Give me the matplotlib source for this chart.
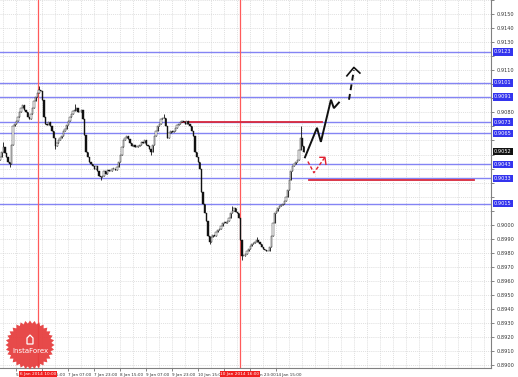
import matplotlib
matplotlib.use("Agg")
import matplotlib.pyplot as plt
import matplotlib.transforms as mtransforms
from matplotlib.patches import Rectangle, Polygon
import numpy as np

# ---------------- data ----------------
first_open = 0.9046
closes = [
    0.9048, 0.9052, 0.9055, 0.9051, 0.9048, 0.9045, 0.9043, 0.9057, 0.9070, 0.9072,
    0.9074, 0.9077, 0.9080, 0.9083, 0.9085, 0.9082, 0.9080, 0.9077, 0.9075, 0.9079,
    0.9083, 0.9088, 0.9091, 0.9094, 0.9096, 0.9095, 0.9089, 0.9077, 0.9072, 0.9071,
    0.9073, 0.9070, 0.9067, 0.9062, 0.9056, 0.9058, 0.9060, 0.9062, 0.9063, 0.9067,
    0.9068, 0.9071, 0.9074, 0.9077, 0.9079, 0.9081, 0.9082, 0.9083, 0.9080, 0.9080,
    0.9082, 0.9075, 0.9064, 0.9052, 0.9048, 0.9045, 0.9043, 0.9042, 0.9040, 0.9042,
    0.9038, 0.9035, 0.9034, 0.9035, 0.9038, 0.9036, 0.9039, 0.9038, 0.9038, 0.9040,
    0.9040, 0.9039, 0.9041, 0.9045, 0.9050, 0.9055, 0.9060, 0.9062, 0.9063, 0.9061,
    0.9058, 0.9056, 0.9057, 0.9055, 0.9055, 0.9056, 0.9057, 0.9059, 0.9058, 0.9060,
    0.9057, 0.9056, 0.9054, 0.9052, 0.9057, 0.9063, 0.9067, 0.9070, 0.9072, 0.9075,
    0.9076, 0.9076, 0.9070, 0.9062, 0.9065, 0.9067, 0.9066, 0.9067, 0.9069, 0.9071,
    0.9072, 0.9073, 0.9074, 0.9073, 0.9072, 0.9074, 0.9072, 0.9070, 0.9067, 0.9063,
    0.9052, 0.9048, 0.9045, 0.9040, 0.9023, 0.9015, 0.9008, 0.9003, 0.8992, 0.8988,
    0.8991, 0.8993, 0.8992, 0.8995, 0.8996, 0.8997, 0.8999, 0.9001, 0.9002, 0.9001,
    0.9003, 0.9005, 0.9008, 0.9010, 0.9012, 0.9009, 0.9008, 0.9005, 0.8989, 0.8978,
    0.8978, 0.8979, 0.8981, 0.8983, 0.8985, 0.8986, 0.8987, 0.8988, 0.8989, 0.8988,
    0.8986, 0.8984, 0.8983, 0.8982, 0.8981, 0.8981, 0.8984, 0.8992, 0.9001, 0.9008,
    0.9010, 0.9012, 0.9013, 0.9014, 0.9015, 0.9017, 0.9020, 0.9025, 0.9032, 0.9038,
    0.9042, 0.9043, 0.9045, 0.9046, 0.9053, 0.9062, 0.9056, 0.9052,
]
# notable wicks
hi_idx = [2, 24, 46, 101, 143, 158, 185]
hi_val = [0.9059, 0.9099, 0.9086, 0.9079, 0.9013, 0.8991, 0.9070]
lo_idx = [6, 34, 62, 93, 129, 149]
lo_val = [0.9041, 0.9054, 0.9032, 0.9050, 0.8986, 0.8975]

# horizontal levels (blue)
levels = [0.9123, 0.9101, 0.9091, 0.9073, 0.9065, 0.9043, 0.9033, 0.9015]
current_price = 0.9052
# red horizontal segments: (start bar, end bar, price)
red_seg_x0 = [112, 190]
red_seg_x1 = [198, 292]
red_seg_y = [0.9073, 0.9032]
# red vertical lines (bar index) and their labels
vlines_x = [23.4, 147.7]
vlines_lbl = ["6 Jan 2014 10:00", "10 Jan 2014 16:00"]
# forecast paths
proj_x = [187.7, 195.1, 197.5, 203.7, 205.5, 208.6]
proj_y = [0.9048, 0.9069, 0.9059, 0.9089, 0.9083, 0.9087]
proj_dash_x = [214.8, 217.8]
proj_dash_y = [0.9089, 0.9110]
proj_head_x = [213.5, 217.8, 221.5]
proj_head_y = [0.9106, 0.9112, 0.9108]
alt_x = [189.5, 193.2, 200.0]
alt_y = [0.9045, 0.9037, 0.9048]
alt_head_x = [196.9, 200.0, 200.6]
alt_head_y = [0.9048, 0.9048, 0.9043]

# axis ticks
ytick_vals = [round(0.8900 + 0.0010 * k, 4) for k in range(27)]
xtick_pos = [-6, 10, 26, 42, 58, 74, 90, 106, 122, 138, 154, 170]
xtick_lbl = ["3 Jan 07:00", "5 Jan 23:00", "6 Jan 15:00", "7 Jan 07:00",
             "7 Jan 23:00", "8 Jan 15:00", "9 Jan 07:00", "9 Jan 23:00",
             "10 Jan 15:00", "13 Jan 07:00", "13 Jan 23:00", "14 Jan 15:00"]

# ---------------- figure ----------------
W, H = 518, 377
XLIM = (0, 302.2)
YLIM = (0.8898, 0.9160)
fig = plt.figure(figsize=(W / 100, H / 100), dpi=100)
ax = fig.add_axes([0, 9 / H, 491 / W, 368 / H])

# grid
for yv in ytick_vals:
    ax.axhline(yv, color="#d4d4d4", lw=0.5, ls=(0, (1.5, 1.5)), zorder=0)
for xv in np.arange(-6, 303, 8):
    ax.axvline(xv, color="#d4d4d4", lw=0.5, ls=(0, (1.5, 1.5)), zorder=0)

# levels
for lv in levels:
    ax.axhline(lv, color="#8484f4", lw=1.0, zorder=1)
for x0, x1, yv in zip(red_seg_x0, red_seg_x1, red_seg_y):
    ax.plot([x0, x1], [yv, yv], color="#d8283c", lw=1.3, zorder=2)
for xv in vlines_x:
    ax.axvline(xv, color="#ff5a5a", lw=0.9, zorder=1)

# candles
hi_map = dict(zip(hi_idx, hi_val))
lo_map = dict(zip(lo_idx, lo_val))
prev = first_open
for i, c in enumerate(closes):
    o = prev
    top, bot = max(o, c), min(o, c)
    hi = hi_map.get(i, top)
    lo = lo_map.get(i, bot)
    ax.plot([i, i], [lo, hi], color="#111111", lw=0.6, zorder=3, solid_capstyle="butt")
    h = max(top - bot, 0.00002)
    fc = "white" if c >= o else "#111111"
    ax.add_patch(Rectangle((i - 0.4, bot), 0.8, h, facecolor=fc,
                           edgecolor="#111111", lw=0.3, zorder=4))
    prev = c

# forecasts
ax.plot(proj_x, proj_y, color="#111111", lw=1.4, zorder=5, solid_joinstyle="miter")
ax.plot(proj_dash_x, proj_dash_y, color="#111111", lw=1.4, ls=(0, (3, 2)), zorder=5)
ax.plot(proj_head_x, proj_head_y, color="#111111", lw=1.2, zorder=5)
ax.plot(alt_x, alt_y, color="#e02030", lw=1.0, ls=(0, (2.5, 1.5)), zorder=5)
ax.plot(alt_head_x, alt_head_y, color="#e02030", lw=1.0, zorder=5)

# axes styling
for s in ["top", "left"]:
    ax.spines[s].set_visible(False)
ax.spines["right"].set_color("#808080")
ax.spines["bottom"].set_color("#808080")
ax.spines["right"].set_linewidth(0.8)
ax.spines["bottom"].set_linewidth(0.8)

# regular price labels hidden where a highlighted label covers them
marked = levels + [current_price]
ylabels = []
for v in ytick_vals:
    covered = any(abs(v - m) < 0.00062 for m in marked) or v >= 0.9160
    ylabels.append("" if covered else f"{v:.4f}")

ax.yaxis.tick_right()
ax.set_yticks(ytick_vals)
ax.set_yticklabels(ylabels)
ax.tick_params(axis="y", labelsize=3.6, length=2, width=0.5, pad=2,
               colors="#555555", labelcolor="#333333")
ax.set_xticks(xtick_pos)
ax.set_xticklabels(xtick_lbl)
for lbl in ax.get_xticklabels():
    lbl.set_horizontalalignment("left")
ax.tick_params(axis="x", labelsize=3.0, length=2, width=0.5, pad=1.5,
               colors="#555555", labelcolor="#333333")
ax.set_xlim(*XLIM)
ax.set_ylim(*YLIM)

# highlighted price labels
trans = mtransforms.blended_transform_factory(ax.transAxes, ax.transData)
for lv in levels:
    ax.text(1.006, lv, f"{lv:.4f}", transform=trans, fontsize=3.6, color="white",
            va="center", ha="left", clip_on=False, zorder=10,
            bbox=dict(boxstyle="square,pad=0.25", fc="#3434ee", ec="none"))
ax.text(1.006, current_price, f"{current_price:.4f}", transform=trans, fontsize=3.6,
        color="white", va="center", ha="left", clip_on=False, zorder=10,
        bbox=dict(boxstyle="square,pad=0.25", fc="#111111", ec="none"))

# highlighted time labels
transx = mtransforms.blended_transform_factory(ax.transData, ax.transAxes)
for xv, lb in zip(vlines_x, vlines_lbl):
    ax.text(xv, -0.011, lb, transform=transx, fontsize=3.1, color="white",
            va="top", ha="center", clip_on=False, zorder=10,
            bbox=dict(boxstyle="square,pad=0.2", fc="#f02020", ec="none"))

# logo (figure pixel coords, origin bottom-left)
cx, cy = 30, H - 345
n_teeth = 32
ang = np.linspace(0, 2 * np.pi, 2 * n_teeth, endpoint=False)
rad = np.where(np.arange(2 * n_teeth) % 2 == 0, 24.5, 21.5)
pts = np.column_stack([cx + rad * np.cos(ang), cy + rad * np.sin(ang)])
fig.patches.append(Polygon(pts, closed=True, transform=None, facecolor="#e63c3c",
                           edgecolor="none", alpha=0.93, zorder=20))
fig.text(cx / W, (cy - 6) / H, "InstaForex", fontsize=5, color="white",
         ha="center", va="center", zorder=21)
fig.patches.append(Polygon([[cx - 3, cy + 1], [cx - 3, cy + 7], [cx, cy + 10],
                            [cx + 3, cy + 7], [cx + 3, cy + 1]], closed=True,
                           transform=None, facecolor="none", edgecolor="white",
                           lw=0.9, zorder=21))

fig.savefig("out.png", dpi=100, facecolor="white")
